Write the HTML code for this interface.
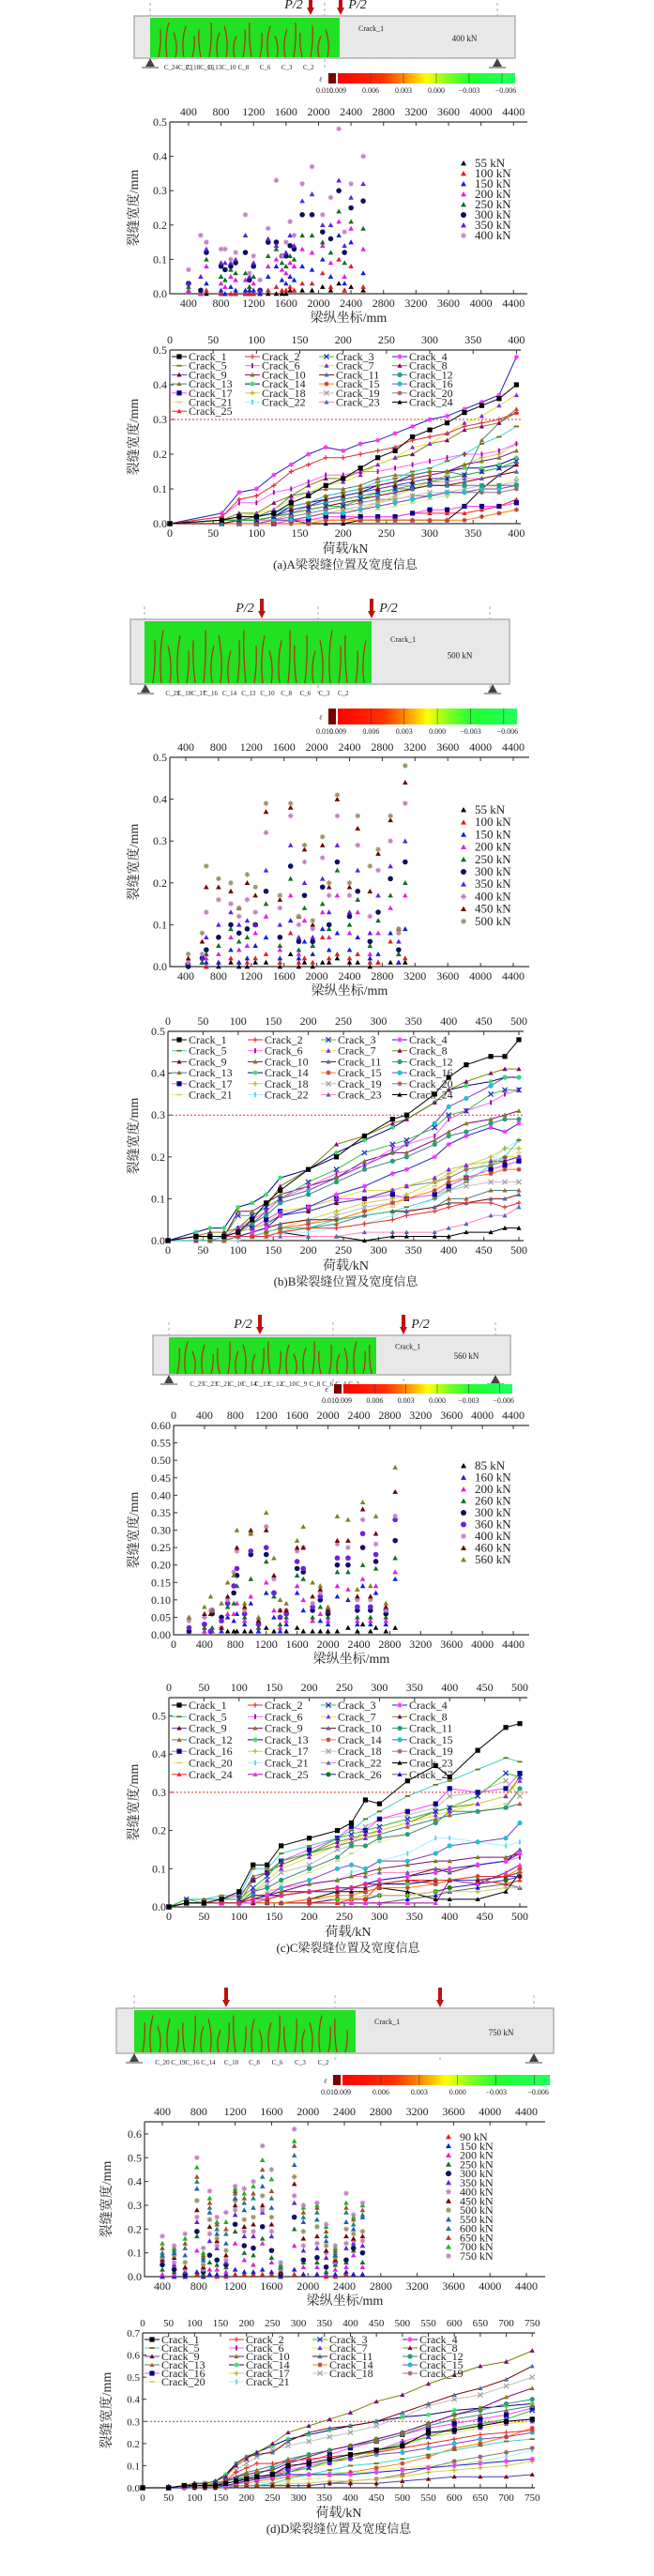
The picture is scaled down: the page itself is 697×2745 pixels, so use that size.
<!DOCTYPE html>
<html><head><meta charset="utf-8"><style>
html,body{margin:0;padding:0;background:#fff;}
svg{display:block;}
text{font-family:"Liberation Serif","Noto Serif CJK SC",serif;}
</style></head>
<body>
<svg id="fig" xmlns="http://www.w3.org/2000/svg" width="697" height="2745" viewBox="0 0 697 2745">
<defs>
<linearGradient id="cbar" x1="0" x2="1" y1="0" y2="0">
<stop offset="0" stop-color="#ff0000"/><stop offset="0.25" stop-color="#ff3000"/><stop offset="0.38" stop-color="#ff9000"/><stop offset="0.5" stop-color="#ffff00"/><stop offset="0.62" stop-color="#80ff20"/><stop offset="0.75" stop-color="#20ff30"/><stop offset="1" stop-color="#20ff60"/>
</linearGradient>
</defs>
</svg>
<script>
// ===== Data (widths in 0.01 mm) =====
const loadsA=[0,60,80,100,120,140,160,180,200,220,240,260,280,300,320,340,360,380,400];
const labelsA=["Crack_1","Crack_2","Crack_3","Crack_4","Crack_5","Crack_6","Crack_7","Crack_8","Crack_9","Crack_10","Crack_11","Crack_12","Crack_13","Crack_14","Crack_15","Crack_16","Crack_17","Crack_18","Crack_19","Crack_20","Crack_21","Crack_22","Crack_23","Crack_24","Crack_25"];
const widthsA=[
[0,1,2,2,3,6,8,11,13,16,19,21,25,27,29,32,34,36,40],
[0,2,7,8,11,15,17,19,19,20,21,22,24,25,26,28,29,30,32],
[0,1,1,1,2,3,4,5,5,7,9,10,11,12,13,14,15,16,18],
[0,3,9,10,14,17,20,22,21,23,24,26,28,30,31,33,35,37,48],
[0,1,2,2,3,5,6,8,9,10,12,13,15,16,18,20,23,25,28],
[0,2,6,6,9,10,12,14,14,15,15,16,17,18,19,20,20,21,23],
[0,1,2,3,4,7,9,11,12,14,17,19,22,23,26,29,31,34,37],
[0,1,3,3,6,8,11,13,13,15,17,19,20,23,24,27,28,29,32],
[0,1,1,1,2,4,5,7,8,9,10,11,12,13,13,14,15,16,17],
[0,1,2,2,3,5,6,8,9,10,11,12,13,14,15,17,18,19,21],
[0,0,1,1,2,3,4,5,6,7,8,9,10,11,11,12,13,14,15],
[0,0,1,1,2,4,5,6,7,8,9,10,10,11,11,11,11,11,11],
[0,0,1,2,4,8,9,10,10,11,13,14,14,15,15,14,24,29,33],
[0,0,1,1,2,5,6,7,8,9,11,12,14,15,15,16,16,17,19],
[0,0,0,0,0,0,0,1,1,1,1,1,1,1,1,1,2,3,4],
[0,0,0,0,1,1,2,3,3,4,5,6,7,8,9,9,10,10,11],
[0,0,0,0,0,1,1,2,2,2,2,2,3,4,4,5,5,5,6],
[0,0,0,0,1,1,2,3,4,4,6,8,10,12,14,17,19,20,23],
[0,0,0,0,0,1,2,3,4,5,6,7,8,9,9,10,11,11,12],
[0,0,0,0,1,2,3,4,5,6,7,7,8,8,9,9,9,9,10],
[0,0,0,0,0,0,1,1,2,3,4,5,6,7,8,9,10,11,13],
[0,0,0,0,1,1,2,3,3,4,5,6,7,8,8,9,10,11,13],
[0,0,1,1,1,3,5,7,8,9,10,11,11,12,12,13,13,14,15],
[0,0,0,0,0,1,0,0,0,1,1,1,1,1,1,5,10,14,17],
[0,1,1,1,1,1,1,1,1,2,2,2,3,3,3,3,4,5,7]];
const positionsA=[2550,2400,2320,2250,2150,2050,1920,1800,1700,1650,1600,1550,1480,1380,1280,1200,1150,1100,980,920,850,800,620,550,400];
const scatterLoadsA=[55,100,150,200,250,300,350,400];

const loadsB=[0,40,60,80,100,120,140,160,200,240,280,320,340,380,400,425,460,480,500];
const labelsB=["Crack_1","Crack_2","Crack_3","Crack_4","Crack_5","Crack_6","Crack_7","Crack_8","Crack_9","Crack_10","Crack_11","Crack_12","Crack_13","Crack_14","Crack_15","Crack_16","Crack_17","Crack_18","Crack_19","Crack_20","Crack_21","Crack_22","Crack_23","Crack_24"];
const widthsB=[
[0,1,1,1,2,5,9,12,17,20,25,29,30,35,39,42,44,44,48],
[0,1,1,1,1,1,1,2,3,3,4,5,6,7,8,9,9,8,9],
[0,1,1,1,6,6,8,10,14,17,21,23,24,27,30,31,35,36,36],
[0,1,1,1,1,2,3,6,8,11,13,16,17,20,23,25,27,26,28],
[0,0,0,1,1,1,2,3,3,5,6,7,8,10,12,14,18,20,24],
[0,1,1,1,3,5,7,10,13,16,18,22,23,25,29,31,33,35,36],
[0,0,1,1,2,3,4,7,8,10,12,12,13,15,17,18,19,20,20],
[0,1,2,2,3,6,8,13,17,23,25,28,29,33,36,38,40,41,41],
[0,1,1,1,2,3,4,6,7,9,10,12,13,15,17,18,19,19,20],
[0,1,1,1,7,7,9,11,13,15,19,21,21,24,26,28,29,30,31],
[0,0,0,1,1,2,3,4,5,5,6,7,7,8,9,9,10,10,11],
[0,1,1,1,2,4,6,9,11,14,17,19,20,23,25,26,28,29,29],
[0,0,0,0,1,1,2,3,3,4,6,7,7,8,10,10,12,12,12],
[0,2,3,3,8,9,11,15,17,21,24,27,29,33,36,37,38,39,39],
[0,0,0,0,1,1,2,3,4,5,7,9,10,12,14,15,16,17,17],
[0,1,1,1,3,4,7,10,12,15,18,21,23,28,32,34,37,39,39],
[0,1,1,1,2,3,5,7,8,10,10,11,10,11,13,15,17,18,19],
[0,0,0,0,1,1,2,3,5,7,9,10,11,14,16,18,20,22,22],
[0,0,0,0,1,1,1,2,4,6,8,9,10,11,12,13,14,14,14],
[0,1,1,1,2,3,4,6,7,9,10,12,13,14,15,17,18,19,20],
[0,0,0,0,1,1,1,2,3,5,7,8,10,13,16,17,19,20,21],
[0,0,0,0,0,1,1,2,2,3,4,6,7,10,13,16,19,22,24],
[0,1,1,1,1,1,1,1,1,1,2,2,2,2,3,4,6,6,8],
[0,1,1,1,1,1,1,2,1,1,0,1,1,1,1,2,2,3,3]];
const positionsB=[3080,3000,2900,2750,2650,2500,2400,2250,2150,2070,1950,1850,1780,1680,1550,1380,1250,1150,1050,950,800,650,600,430];
const scatterLoadsB=[55,100,150,200,250,300,350,400,450,500];

const loadsC=[0,25,50,75,100,120,140,160,200,240,260,280,300,340,380,400,440,480,500];
const labelsC=["Crack_1","Crack_2","Crack_3","Crack_4","Crack_5","Crack_6","Crack_7","Crack_8","Crack_9","Crack_9","Crack_10","Crack_11","Crack_12","Crack_13","Crack_14","Crack_15","Crack_16","Crack_17","Crack_18","Crack_19","Crack_20","Crack_21","Crack_22","Crack_23","Crack_24","Crack_25","Crack_26","Crack_27"];
const widthsC=[
[0,1,1,2,4,11,11,16,18,20,22,28,27,33,37,34,41,47,48],
[0,1,1,1,1,2,2,3,4,5,5,6,6,7,7,7,8,8,9],
[0,2,1,2,2,5,8,12,14,18,19,20,21,23,25,26,29,35,34],
[0,1,1,1,1,2,3,3,4,5,5,6,7,8,9,10,11,12,14],
[0,2,2,3,3,10,10,14,16,18,20,23,25,29,32,33,36,39,38],
[0,1,1,1,1,1,2,3,4,5,5,6,7,8,9,10,11,12,13],
[0,1,1,2,2,4,7,10,13,16,18,18,20,22,24,25,27,29,33],
[0,1,1,1,1,7,9,11,14,17,18,19,20,22,25,26,27,29,34],
[0,1,1,1,1,1,2,3,4,4,5,5,6,7,7,7,7,8,8],
[0,1,1,1,1,2,3,4,6,7,8,9,10,11,12,12,13,13,14],
[0,1,1,1,1,3,3,4,4,5,5,6,7,8,10,9,11,12,15],
[0,1,1,1,1,4,5,7,10,13,16,16,18,19,22,25,25,26,31],
[0,2,2,2,2,8,9,12,14,16,17,18,19,21,23,24,25,26,27],
[0,1,1,1,1,2,3,3,4,5,5,6,6,6,7,7,7,8,9],
[0,1,1,1,1,1,1,1,2,3,3,4,5,5,6,7,7,8,10],
[0,1,1,1,1,3,3,5,7,10,11,10,12,12,14,16,17,18,22],
[0,1,1,2,3,7,9,12,15,18,21,20,23,25,27,31,30,31,35],
[0,1,1,1,1,1,1,1,2,2,2,3,3,3,4,4,4,5,5],
[0,1,1,1,1,4,6,9,11,15,16,21,23,24,26,29,30,33,29],
[0,1,1,1,1,1,2,3,4,4,5,6,6,6,7,7,8,8,9],
[0,1,1,1,1,2,4,6,9,12,14,16,17,19,22,24,25,27,30],
[0,1,1,1,1,1,3,4,6,7,9,10,12,14,18,18,17,16,17],
[0,1,1,1,1,2,4,5,6,7,8,8,9,9,10,10,11,12,15],
[0,1,1,1,1,1,1,1,2,4,4,4,5,4,2,2,2,4,9],
[0,1,1,1,1,1,1,1,1,1,2,2,6,7,6,7,7,6,7],
[0,1,1,1,1,1,1,1,1,1,1,1,1,1,1,7,6,9,11],
[0,1,1,1,1,1,1,1,1,2,2,2,3,3,4,5,6,7,8],
[0,1,1,1,1,1,1,1,1,1,1,1,1,2,3,4,5,6,5]];
const positionsC=[2870,2750,2620,2550,2450,2380,2260,2120,2000,1900,1800,1680,1600,1460,1380,1300,1200,1100,1000,920,820,780,700,620,500,480,400,200];
const scatterLoadsC=[85,160,200,260,300,360,400,460,560];

const loadsD=[0,50,80,100,120,140,160,180,200,220,250,280,320,360,400,450,500,550,600,650,700,750];
const labelsD=["Crack_1","Crack_2","Crack_3","Crack_4","Crack_5","Crack_6","Crack_7","Crack_8","Crack_9","Crack_10","Crack_11","Crack_12","Crack_13","Crack_14","Crack_14","Crack_15","Crack_16","Crack_17","Crack_18","Crack_19","Crack_20","Crack_21"];
const widthsD=[
[0,0,1,1,1,1,2,3,4,5,6,10,11,13,15,17,19,25,26,28,30,31],
[0,0,1,1,1,1,3,7,9,11,11,12,13,14,15,16,18,20,22,24,25,26],
[0,0,1,1,1,2,3,4,4,5,6,7,9,12,14,17,20,23,27,29,31,35],
[0,0,0,1,1,1,1,2,3,4,5,6,6,6,6,7,8,9,10,11,12,13],
[0,0,0,1,1,1,1,1,1,1,2,4,6,8,10,11,13,15,17,19,21,22],
[0,0,1,1,1,1,2,3,4,4,6,8,10,12,14,17,21,24,27,29,30,31],
[0,0,1,1,1,1,2,3,4,5,6,7,9,11,13,16,19,23,25,27,29,30],
[0,0,1,2,2,3,5,10,13,16,20,25,28,31,34,39,42,47,51,55,57,62],
[0,0,0,0,0,0,1,1,1,1,1,1,1,2,2,2,3,4,5,5,5,6],
[0,0,1,1,1,2,3,5,6,7,8,11,14,17,19,22,25,29,33,36,41,45],
[0,0,1,2,2,3,5,11,14,15,16,21,25,27,28,30,34,38,42,45,49,55],
[0,0,1,1,1,2,3,4,5,6,9,12,15,17,19,22,25,29,33,35,38,40],
[0,0,1,1,1,2,3,5,7,8,10,13,15,17,19,21,24,28,31,33,35,37],
[0,0,1,2,2,3,6,11,14,16,19,22,24,26,28,30,32,33,35,36,37,38],
[0,0,0,0,0,1,1,2,2,3,4,5,6,6,7,9,11,14,18,20,23,27],
[0,0,0,1,1,1,1,2,3,4,5,7,10,12,13,15,16,18,20,22,23,25],
[0,0,1,1,1,1,2,3,3,4,6,9,12,15,18,21,24,27,29,31,33,36],
[0,0,0,0,0,0,1,1,1,1,1,2,2,3,3,4,5,7,8,9,10,12],
[0,0,1,1,2,2,4,8,11,14,17,19,21,23,25,28,32,37,40,42,46,50],
[0,0,0,0,0,0,0,1,1,1,1,1,1,2,3,4,6,9,12,14,16,18],
[0,0,0,0,0,0,1,1,1,1,2,3,4,5,6,8,9,10,11,12,12,13],
[0,0,0,0,0,0,1,1,1,2,3,5,6,7,7,7,8,9,10,12,14,17]];
const positionsD=[2600,2500,2420,2300,2200,2100,1950,1850,1700,1600,1500,1400,1300,1200,1100,1000,920,850,780,650,530,400];
const scatterLoadsD=[90,150,200,250,300,350,400,450,500,550,600,650,700,750];

// ===== styles (not data) =====
const NS="http://www.w3.org/2000/svg";
const svg=document.getElementById('fig');
const seriesStyle=[
["#000","#000","sq"],["#e03030","#e03030","plus"],["#30c030","#2020d0","x"],["#2020c0","#ff30ff","star"],
["#40d0d0","#707000","dash"],["#ff60ff","#a000a0","bar"],["#e0e040","#8020ff","tri"],["#808000","#800080","tri"],
["#4040c0","#800000","tri"],["#800080","#808000","tri"],["#800000","#4070b0","tri"],["#408080","#20a080","circ"],
["#408080","#b06020","tri"],["#000080","#30e060","star"],["#ff8000","#c04040","star"],["#8040c0","#20c0d0","circ"],
["#ff40ff","#000090","sq"],["#d0d060","#b0b020","plus"],["#c0c0c0","#a0a0a0","x"],["#808080","#a06060","star"],
["#f0f090","#d0d090","dash"],["#a0f0ff","#60d0e0","bar"],["#ff80c0","#4070b0","tri"],["#000","#000","tri"],
["#ff2020","#ff2020","tri"],["#a000a0","#ff20ff","tri"],["#2020a0","#008000","circ"],["#606060","#0000ff","tri"]];
function scatterStyle(load){
  const m={55:["#000","tri"],85:["#000","tri"],90:["#e02020","tri"],100:["#e02020","tri"],150:["#1020e0","tri"],160:["#1020e0","tri"],
  200:["#e020e0","tri"],250:["#107020","tri"],260:["#107020","tri"],300:["#101060","circ"],350:["#6020e0","tri"],360:["#7020e0","circ"],
  400:["#c080c0","star"],450:["#700000","tri"],460:["#700000","tri"],500:["#9a9060","star"],550:["#2060b0","tri"],600:["#208080","tri"],
  650:["#a05020","tri"],700:["#20b020","tri"],750:["#c080c0","star"],560:["#808020","tri"]};
  return m[load]||["#000","tri"];
}

function mk(tag,attrs,parent){const e=document.createElementNS(NS,tag);for(const k in attrs)e.setAttribute(k,attrs[k]);(parent||svg).appendChild(e);return e;}
function txt(x,y,s,size,anchor,parent,extra){const t=mk('text',Object.assign({x:x,y:y,'font-size':size,'text-anchor':anchor||'middle',fill:'#222'},extra||{}),parent);t.textContent=s;return t;}
function marker(parent,shape,cx,cy,color,r){
  let e;
  if(shape==='sq')e=mk('rect',{x:cx-r,y:cy-r,width:2*r,height:2*r,fill:color},parent);
  else if(shape==='circ')e=mk('circle',{cx:cx,cy:cy,r:r,fill:color},parent);
  else if(shape==='tri')e=mk('polygon',{points:`${cx},${cy-r} ${cx-r},${cy+r*0.8} ${cx+r},${cy+r*0.8}`,fill:color},parent);
  else if(shape==='plus')e=mk('path',{d:`M${cx-r} ${cy}h${2*r}M${cx} ${cy-r}v${2*r}`,stroke:color,'stroke-width':1.2},parent);
  else if(shape==='x')e=mk('path',{d:`M${cx-r} ${cy-r}L${cx+r} ${cy+r}M${cx-r} ${cy+r}L${cx+r} ${cy-r}`,stroke:color,'stroke-width':1.2},parent);
  else if(shape==='star')e=mk('path',{d:`M${cx-r} ${cy}h${2*r}M${cx} ${cy-r}v${2*r}M${cx-r*0.7} ${cy-r*0.7}L${cx+r*0.7} ${cy+r*0.7}M${cx-r*0.7} ${cy+r*0.7}L${cx+r*0.7} ${cy-r*0.7}`,stroke:color,'stroke-width':1.1},parent);
  else if(shape==='dash')e=mk('path',{d:`M${cx-r} ${cy}h${2*r}`,stroke:color,'stroke-width':1.8},parent);
  else e=mk('path',{d:`M${cx} ${cy-r}v${2*r}`,stroke:color,'stroke-width':1.8},parent);
  return e;
}
function axes(g,ax,xt,yt,yfmt,fs){
  const sx=v=>ax.l+(v-ax.x0)/(ax.x1-ax.x0)*(ax.r-ax.l);
  const sy=v=>ax.b-(v-ax.y0)/(ax.y1-ax.y0)*(ax.b-ax.t);
  mk('path',{d:`M${ax.l} ${ax.t}V${ax.b}H${ax.r}M${ax.l} ${ax.t}H${ax.r}`,stroke:'#333','stroke-width':1.2,fill:'none'},g);
  xt.forEach(v=>{const x=sx(v);
    mk('path',{d:`M${x} ${ax.b}v-4M${x} ${ax.t}v4`,stroke:'#333','stroke-width':1},g);
    txt(x,ax.b+14,String(v),fs,'middle',g);
    txt(x,ax.t-7,String(v),fs,'middle',g);});
  yt.forEach(v=>{const y=sy(v);
    mk('path',{d:`M${ax.l} ${y}h4`,stroke:'#333','stroke-width':1},g);
    txt(ax.l-3,y+4,v.toFixed(yfmt),fs,'end',g);});
  return {sx,sy};
}
function range(a,b,s){const r=[];for(let v=a;v<=b+1e-9;v+=s)r.push(Math.round(v*100)/100);return r;}
function nearestIdx(arr,v){let bi=0;arr.forEach((a,i)=>{if(Math.abs(a-v)<Math.abs(arr[bi]-v))bi=i;});return bi;}

function drawScatter(name,ax,xt,yt,yfmt,loads,widths,positions,sLoads,leg,fs){
  const g=mk('g',{});
  
  
  const {sx,sy}=axes(g,ax,xt,yt,yfmt,fs);
  txt(ax.yl,(ax.t+ax.b)/2,'裂缝宽度/mm',14,'middle',g,{transform:`rotate(-90 ${ax.yl} ${(ax.t+ax.b)/2})`});
  const xtitle=txt((ax.l+ax.r)/2,ax.b+30,'梁纵坐标/mm',14,'middle',g);
  
  sLoads.forEach((L,k)=>{
    const idx=nearestIdx(loads,L);const st=scatterStyle(L);
    positions.forEach((p,i)=>{
      const m=marker(g,st[1],sx(p),sy(widths[i][idx]/100),st[0],2.8);
      
      
    });
    const ly=leg.y+k*leg.dy;
    const lm=marker(g,st[1],leg.x,ly-4,st[0],3);
    
    
    const lt=txt(leg.x+12,ly,L+' kN',leg.fs,'start',g);
    
    
  });
}
function drawLines(name,ax,xt,yt,loads,widths,labels,leg,fs,caption){
  const g=mk('g',{});
  
  
  const {sx,sy}=axes(g,ax,xt,yt,1,fs);
  txt(ax.yl,(ax.t+ax.b)/2,'裂缝宽度/mm',14,'middle',g,{transform:`rotate(-90 ${ax.yl} ${(ax.t+ax.b)/2})`});
  const xtitle=txt((ax.l+ax.r)/2,ax.b+31,'荷载/kN',14,'middle',g);
  
  const cap=txt((ax.l+ax.r)/2,ax.b+48,caption,13,'middle',g);
  
  const ref=mk('line',{x1:ax.l,x2:ax.r,y1:sy(0.3),y2:sy(0.3),stroke:'#e03030','stroke-width':1,'stroke-dasharray':'2,2'},g);
  
  for(let i=widths.length-1;i>=0;i--){
    const st=seriesStyle[i%seriesStyle.length];
    const pts=loads.map((L,j)=>sx(L)+','+sy(widths[i][j]/100)).join(' ');
    const pl=mk('polyline',{points:pts,fill:'none',stroke:st[0],'stroke-width':1},g);
    
    
    loads.forEach((L,j)=>{const m=marker(g,st[2],sx(L),sy(widths[i][j]/100),st[1],2.6);
      
      });
  }
  labels.forEach((lab,i)=>{
    const st=seriesStyle[i%seriesStyle.length];
    const cx=leg.cols[i%4],cy=leg.y+Math.floor(i/4)*leg.dy;
    mk('line',{x1:cx,x2:cx+16,y1:cy-4,y2:cy-4,stroke:st[0],'stroke-width':1},g);
    const lm=marker(g,st[2],cx+8,cy-4,st[1],2.6);
    
    
    const lt=txt(cx+18,cy,lab,leg.fs,'start',g);
    
    
  });
}
function drawBeam(name,b){
  const g=mk('g',{});
  
  
  b.dash.forEach(x=>mk('line',{x1:x,x2:x,y1:b.t-14,y2:b.b+10,stroke:'#aaa','stroke-dasharray':'3,3'},g));
  mk('rect',{x:b.l,y:b.t,width:b.r-b.l,height:b.b-b.t,fill:'#e8e8e8',stroke:'#b0b0b0','stroke-width':1.5},g);
  mk('rect',{x:b.gl,y:b.t+2,width:b.gr-b.gl,height:b.b-b.t-3,fill:'#22e022'},g);
  const n=Math.round((b.gr-b.gl)/9);
  for(let k=1;k<n;k++){const x=b.gl+k*9;const h=(b.b-b.t)*(0.5+0.4*((k*7)%5)/5);
    mk('path',{d:`M${x} ${b.b-1}q${k%2?3:-3} ${-h/2} ${k%3?2:-2} ${-h}`,stroke:'#b03010','stroke-width':1.2,fill:'none'},g);}
  b.arrows.forEach(x=>{mk('rect',{x:x-2,y:b.t-22,width:4,height:14,fill:'#c01010'},g);
    mk('polygon',{points:`${x-4},${b.t-9} ${x+4},${b.t-9} ${x},${b.t-1}`,fill:'#c01010'},g);
    if(b.p)txt(x+(x===b.arrows[0]?-18:18),b.t-8,'P/2',14,'middle',g,{'font-style':'italic'});});
  b.sup.forEach(x=>{mk('polygon',{points:`${x},${b.b} ${x-5},${b.b+9} ${x+5},${b.b+9}`,fill:'#444'},g);
    mk('line',{x1:x-9,x2:x+9,y1:b.b+10,y2:b.b+10,stroke:'#444'},g);});
  txt(b.gr+20,b.t+(b.b-b.t)*0.35,'Crack_1',8,'start',g);
  txt(b.kx,b.t+(b.b-b.t)*0.6,b.kn,9,'middle',g);
  b.cl.forEach((s,k)=>txt(b.gl+30+k*((b.gr-b.gl-40)/b.cl.length),b.b+12,s,7,'middle',g));
  const c=b.cb;
  txt(c.l-8,(c.t+c.b)/2+3,'ε',8,'middle',g,{'font-style':'italic'});
  mk('rect',{x:c.l,y:c.t,width:8,height:c.b-c.t,fill:'#7a0000'},g);
  mk('rect',{x:c.l+10,y:c.t,width:c.r-c.l-10,height:c.b-c.t,fill:'url(#cbar)'},g);
  const labs=['0.010','0.009','0.006','0.003','0.000','−0.003','−0.006'];
  labs.forEach((s,k)=>{const x=c.l+ (k===0?-4:10+(k-1)*(c.r-c.l-10)/5.4);
    if(k>1)mk('line',{x1:x,x2:x,y1:c.t,y2:c.b,stroke:'#333','stroke-width':0.5},g);
    txt(x+(k===6?4:0),c.b+10,s,8,'middle',g);});
}

// ===== Panel A =====
drawBeam('beam-diagram-a',{l:143,r:549,t:17,b:62,gl:160,gr:362,dash:[160,346,530],arrows:[331,363],p:true,sup:[160,530],kx:495,kn:'400 kN',cl:['C_24C_23','C_18C_16','C_13C_10','C_8','C_6','C_3','C_2'],cb:{l:350,r:549,t:78,b:89}});
drawScatter('scatter-chart-a',{l:181,r:562,t:130,b:313,x0:170,x1:4570,y0:0,y1:0.5,yl:147},range(400,4400,400),range(0,0.5,0.1),1,loadsA,widthsA,positionsA,scatterLoadsA,{x:494,y:178,dy:11,fs:13},12);
drawLines('line-chart-a',{l:181,r:555,t:373,b:558,x0:0,x1:405,y0:0,y1:0.5,yl:147},range(0,400,50),range(0,0.5,0.1),loadsA,widthsA,labelsA,{cols:[183,261,340,418],y:384,dy:9.7,fs:12},12,'(a)A梁裂缝位置及宽度信息');

// ===== Panel B =====
drawBeam('beam-diagram-b',{l:139,r:543,t:660,b:729,gl:154,gr:396,dash:[154,339,522],arrows:[279,396],p:true,sup:[155,525],kx:490,kn:'500 kN',cl:['C_23','C_18C_17','C_16','C_14','C_13','C_10','C_8','C_6','C_3','C_2'],cb:{l:350,r:551,t:755,b:772}});
drawScatter('scatter-chart-b',{l:181,r:564,t:807,b:1030,x0:205,x1:4595,y0:0,y1:0.5,yl:147},range(400,4400,400),range(0,0.5,0.1),1,loadsB,widthsB,positionsB,scatterLoadsB,{x:494,y:867,dy:13.2,fs:13},12);
drawLines('line-chart-b',{l:179,r:558,t:1099,b:1322,x0:0,x1:506.7,y0:0,y1:0.5,yl:147},range(0,500,50),range(0,0.5,0.1),loadsB,widthsB,labelsB,{cols:[183,264,342,418],y:1112,dy:11.7,fs:12},12,'(b)B梁裂缝位置及宽度信息');

// ===== Panel C =====
drawBeam('beam-diagram-c',{l:163,r:544,t:1423,b:1465,gl:180,gr:401,dash:[180,355,430,528],arrows:[277,430],p:true,sup:[180,528],kx:497,kn:'560 kN',cl:['C_25','C_23','C_21','C_16','C_14','C_13','C_12','C_10','C_9','C_8','C_6','C_4','C_2'],cb:{l:356,r:546,t:1475,b:1485}});
drawScatter('scatter-chart-c',{l:185,r:564,t:1519,b:1742,x0:0,x1:4606,y0:0,y1:0.6,yl:147},range(0,4400,400),range(0,0.6,0.05),2,loadsC,widthsC,positionsC,scatterLoadsC,{x:494,y:1566,dy:12.5,fs:13},12);
drawLines('line-chart-c',{l:180,r:562,t:1809,b:2032,x0:0,x1:510.7,y0:0,y1:0.548,yl:147},range(0,500,50),range(0,0.5,0.1),loadsC,widthsC,labelsC,{cols:[183,264,342,418],y:1821,dy:12.3,fs:12},12,'(c)C梁裂缝位置及宽度信息');

// ===== Panel D =====
drawBeam('beam-diagram-d',{l:124,r:590,t:2140,b:2188,gl:143,gr:379,dash:[143,357,469,569],arrows:[241,469],p:false,sup:[143,569],kx:534,kn:'750 kN',cl:['C_20','C_19C_16','C_14','C_10','C_8','C_6','C_3','C_2'],cb:{l:355,r:586,t:2211,b:2222}});
drawScatter('scatter-chart-d',{l:154,r:581,t:2261,b:2426,x0:204,x1:4606,y0:0,y1:0.651,yl:118},range(400,4400,400),range(0,0.6,0.1),1,loadsD,widthsD,positionsD,scatterLoadsD,{x:478,y:2281,dy:9.77,fs:12},12);
drawLines('line-chart-d',{l:152,r:570,t:2486,b:2651,x0:0,x1:755,y0:0,y1:0.7,yl:118},range(0,750,50),range(0,0.7,0.1),loadsD,widthsD,labelsD,{cols:[154,244,333,429],y:2497,dy:9,fs:12},11,'(d)D梁裂缝位置及宽度信息');
</script>
</body></html>
